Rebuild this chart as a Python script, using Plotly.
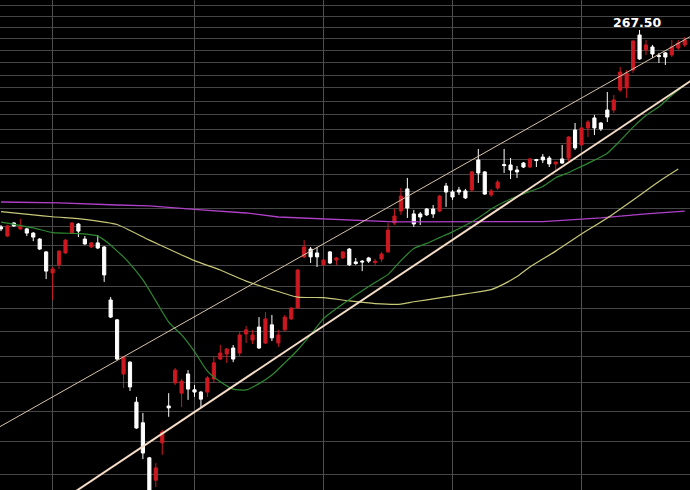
import math
import plotly.graph_objects as go

# ---- candle data (index 0..106) ----
OPEN = [163.5, 159.8, 165.1, 162.7, 162.7, 161.0, 158.6, 153.6, 145.7, 148.7,
        153.2, 161.0, 164.7, 158.6, 155.5, 157.1, 155.5, 136.2, 129.6, 113.2,
        116.6, 105.5, 100.2, 91.8, 86.8, 95.3, 104.5, 110.7, 107.9, 113.2,
        108.8, 108.2, 108.2, 111.8, 117.5, 119.0, 120.8, 119.3, 125.1, 123.2,
        127.3, 122.3, 128.0, 122.3, 126.4, 129.9, 133.5, 151.7, 154.7, 153.2,
        148.7, 153.6, 150.5, 151.3, 154.7, 149.8, 150.1, 151.3, 149.6, 150.9,
        153.6, 165.1, 170.1, 179.8, 168.9, 168.9, 171.0, 171.0, 170.1, 181.1,
        178.4, 179.3, 178.9, 179.3, 193.3, 187.6, 177.1, 180.2, 191.1, 190.9,
        188.5, 191.8, 189.9, 193.5, 194.7, 194.2, 191.4, 193.8, 194.2, 208.3,
        200.7, 209.4, 214.7, 212.0, 219.0, 219.0, 230.2, 231.4, 242.0, 264.2,
        254.5, 256.4, 251.0, 252.6, 251.3, 255.7, 257.7]
HIGH = [164.3, 164.3, 165.5, 166.8, 163.1, 161.4, 159.0, 153.9, 147.9, 154.3,
        158.6, 165.5, 165.1, 159.8, 157.5, 160.2, 155.9, 137.2, 129.9, 118.4,
        116.9, 106.9, 102.7, 92.0, 90.6, 98.4, 107.9, 114.9, 111.8, 114.3,
        110.1, 108.5, 112.6, 118.1, 121.7, 120.8, 121.7, 125.7, 127.6, 126.4,
        130.5, 132.2, 131.2, 126.4, 131.2, 133.8, 147.2, 158.2, 155.5, 155.5,
        153.2, 153.9, 151.7, 153.9, 155.1, 151.3, 150.5, 151.7, 150.9, 153.6,
        165.1, 171.0, 180.2, 184.8, 170.6, 169.7, 171.4, 172.7, 177.1, 182.5,
        179.3, 180.7, 179.8, 188.0, 198.7, 188.0, 179.8, 183.9, 198.7, 194.2,
        190.4, 192.3, 194.2, 193.8, 196.2, 195.2, 192.5, 200.7, 205.2, 212.0,
        209.9, 213.6, 216.3, 212.5, 229.1, 227.4, 243.9, 242.0, 260.9, 267.5,
        260.9, 257.7, 252.6, 253.2, 260.9, 260.9, 262.9]
LOW = [161.8, 159.4, 163.5, 162.2, 159.8, 157.8, 154.3, 143.5, 136.2, 147.2,
       152.8, 160.6, 159.4, 156.3, 155.1, 154.7, 142.5, 130.2, 117.2, 109.3,
       108.5, 98.7, 91.5, 83.4, 85.3, 92.5, 101.7, 110.1, 104.2, 106.1,
       106.9, 104.0, 106.9, 110.7, 117.2, 116.4, 116.6, 118.1, 122.3, 122.0,
       120.5, 122.0, 122.9, 121.1, 126.0, 129.6, 133.2, 151.3, 149.4, 147.9,
       147.2, 149.0, 148.7, 150.9, 148.3, 148.7, 146.4, 149.4, 148.7, 149.8,
       153.2, 164.3, 168.5, 167.2, 163.5, 164.3, 168.0, 167.2, 169.7, 171.9,
       174.9, 177.1, 175.3, 178.4, 182.5, 177.1, 176.2, 179.3, 187.1, 184.3,
       184.8, 189.4, 189.4, 189.9, 191.8, 189.9, 188.5, 191.4, 192.8, 198.2,
       199.7, 204.7, 205.7, 207.8, 212.5, 217.4, 229.1, 225.7, 240.2, 248.2,
       251.3, 249.4, 246.3, 245.1, 250.0, 254.5, 256.4]
CLOSE = [162.7, 163.9, 163.9, 163.9, 161.0, 159.4, 154.7, 146.4, 147.2, 153.9,
         158.2, 165.1, 161.8, 156.7, 157.1, 155.1, 145.0, 130.5, 117.5, 118.1,
         109.6, 98.9, 92.9, 84.3, 89.5, 97.9, 104.0, 114.3, 111.2, 109.0,
         108.2, 106.3, 112.1, 116.4, 119.3, 120.5, 117.5, 124.8, 126.4, 124.8,
         120.8, 129.9, 123.9, 124.8, 130.5, 133.5, 146.8, 155.5, 151.7, 151.7,
         150.5, 149.4, 151.3, 153.6, 148.7, 149.2, 149.8, 150.1, 150.0, 152.8,
         162.2, 168.0, 176.6, 171.4, 164.7, 167.6, 168.5, 168.9, 176.6, 178.4,
         176.2, 178.4, 175.8, 187.6, 187.1, 177.5, 178.9, 182.9, 190.6, 188.5,
         187.6, 189.9, 193.8, 193.0, 193.3, 191.4, 192.3, 191.8, 204.7, 199.2,
         209.4, 212.5, 209.4, 208.9, 215.2, 224.6, 240.8, 240.2, 260.2, 248.8,
         257.7, 251.9, 250.4, 250.0, 256.4, 258.9, 260.9]
IDX = list(range(len(OPEN)))

# ---- moving-average style lines (index, value) ----
MA_PURPLE_X = [0, 9, 18, 23, 31, 38, 43, 51, 61, 84, 93, 100, 106]
MA_PURPLE_Y = [174.0, 173.6, 172.7, 172.3, 170.6, 169.3, 167.6, 166.8, 165.6, 165.7, 167.2, 168.9, 170.1]

MA_YELLOW_X = [0, 5, 8, 13, 16, 18, 23, 26, 30, 34, 38, 42, 46, 50, 54, 58, 62, 64, 68, 72,
               76, 78, 80, 82, 86, 90, 94, 98, 102, 105]
MA_YELLOW_Y = [169.9, 168.5, 167.7, 166.6, 165.5, 164.5, 158.2, 154.7, 150.3, 146.8, 142.8, 139.8,
               137.2, 137.0, 135.9, 135.0, 134.8, 135.6, 136.9, 138.3, 139.8, 141.8, 144.4, 147.9,
               153.9, 160.6, 167.2, 174.9, 183.2, 189.0]

MA_GREEN_X = [0, 5, 8, 12, 15, 17, 18, 19, 20, 22, 24, 26, 28, 30, 32, 34, 36, 38, 40, 42, 44,
              46, 48, 50, 52, 54, 56, 58, 60, 62, 64, 66, 68, 70, 72, 74, 76, 78, 80, 82, 84,
              86, 88, 90, 92, 94, 96, 98, 100, 102, 104, 106]
MA_GREEN_Y = [165.5, 163.1, 161.2, 160.8, 159.8, 156.3, 153.9, 151.7, 149.1, 143.2, 135.9, 128.9,
              124.8, 119.7, 114.0, 111.0, 109.0, 108.8, 110.5, 112.9, 116.4, 120.2, 124.8, 130.0,
              133.3, 136.4, 139.4, 142.3, 145.2, 150.3, 154.9, 156.9, 159.2, 161.5, 164.2, 167.2,
              171.0, 174.0, 176.5, 178.7, 180.9, 184.9, 187.3, 190.2, 193.2, 196.6, 202.9, 209.8,
              216.0, 220.8, 227.2, 233.1]

# ---- channel trend lines (start/end index, value) ----
TREND_UP_X = [-0.2, 107]
TREND_UP_Y = [99.2, 263.5]
TREND_LOW_X = [10, 107]
TREND_LOW_Y = [83.0, 235.7]

# ---- horizontal grid levels ----
GRID_LEVELS = [88.10, 95.64, 103.19, 110.73, 118.28, 125.82, 133.36, 140.91, 148.45, 155.99,
               163.54, 171.08, 178.63, 186.17, 193.72, 201.26, 208.80, 216.35, 223.89, 231.44,
               238.98, 246.52, 254.07, 261.61, 269.16, 276.70, 284.24]
MONTH_MARKS = [8, 30, 50, 70, 90]
MAX_LABEL = "267.50"

RED = "#cc1820"
fig = go.Figure()
fig.add_trace(go.Candlestick(
    x=IDX, open=OPEN, high=HIGH, low=LOW, close=CLOSE,
    increasing=dict(line=dict(color=RED, width=1), fillcolor=RED),
    decreasing=dict(line=dict(color="#ffffff", width=1), fillcolor="#ffffff"),
    whiskerwidth=0, hoverinfo="skip", showlegend=False))

fig.add_trace(go.Scatter(x=MA_PURPLE_X, y=MA_PURPLE_Y, mode="lines",
                         line=dict(color="#b040c8", width=1.3), showlegend=False, hoverinfo="skip"))
fig.add_trace(go.Scatter(x=MA_YELLOW_X, y=MA_YELLOW_Y, mode="lines",
                         line=dict(color="#c8c878", width=1.2, shape="spline", smoothing=0.6),
                         showlegend=False, hoverinfo="skip"))
fig.add_trace(go.Scatter(x=MA_GREEN_X, y=MA_GREEN_Y, mode="lines",
                         line=dict(color="#2e8a30", width=1.2, shape="spline", smoothing=0.6),
                         showlegend=False, hoverinfo="skip"))
fig.add_trace(go.Scatter(x=TREND_UP_X, y=TREND_UP_Y, mode="lines",
                         line=dict(color="#d8c4aa", width=1), showlegend=False, hoverinfo="skip"))
fig.add_trace(go.Scatter(x=TREND_LOW_X, y=TREND_LOW_Y, mode="lines",
                         line=dict(color="#f4dcc6", width=2), showlegend=False, hoverinfo="skip"))

imax = max(IDX, key=lambda i: HIGH[i])
fig.add_annotation(x=imax, y=math.log10(HIGH[imax]), text="<b>" + MAX_LABEL + "</b>",
                   showarrow=False, yanchor="bottom", yshift=-2, xshift=-2,
                   font=dict(family="DejaVu Sans", size=12.5, color="#ffffff"))

fig.update_layout(
    width=690, height=490, margin=dict(l=0, r=0, t=0, b=0),
    paper_bgcolor="#000000", plot_bgcolor="#000000",
    boxgap=0.3, showlegend=False, hovermode=False,
    xaxis=dict(range=[-0.155, 106.82], tickvals=MONTH_MARKS, showticklabels=False,
               showgrid=True, gridcolor="#505050", gridwidth=1, zeroline=False,
               showline=False, ticks="", rangeslider=dict(visible=False), fixedrange=True),
    yaxis=dict(type="log", range=[math.log10(84.70), math.log10(288.33)],
               tickvals=GRID_LEVELS, showticklabels=False, showgrid=True,
               gridcolor="#464646", gridwidth=1, zeroline=False, showline=False,
               ticks="", fixedrange=True),
)

fig.write_html("out.html", config={"displayModeBar": False},
               post_script="document.body.style.margin='0';document.body.style.background='#000';"
                           "document.body.style.overflow='hidden';")
